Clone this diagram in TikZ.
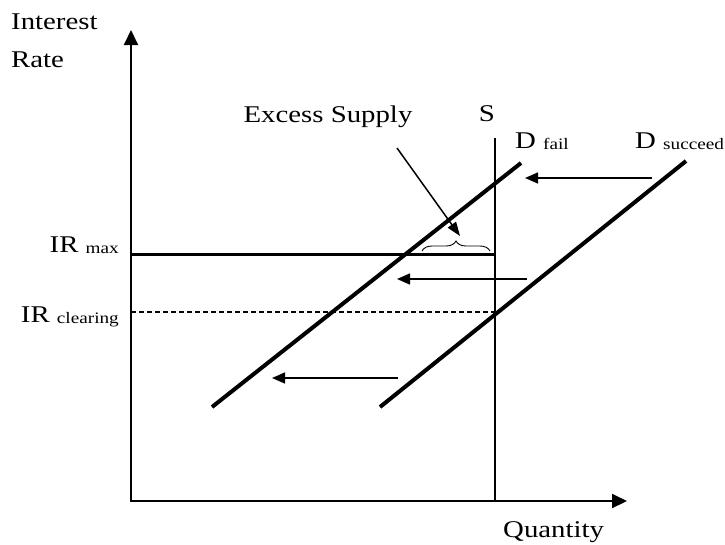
\documentclass[tikz,border=0pt]{standalone}
\usepackage{fontspec}
\setmainfont{Liberation Serif}[FakeStretch=1.2]
\usetikzlibrary{arrows.meta,decorations.pathreplacing}
\newcommand\subtxt[1]{\raisebox{-1.5pt}{\fontsize{16}{18}\selectfont #1}}
\begin{document}
\begin{tikzpicture}[x=1pt,y=-1pt,
  lbl/.style={font=\fontsize{24}{27}\selectfont, inner sep=0pt},
  axis/.style={line width=2pt, {Triangle[length=15pt,width=14pt]}-{Triangle[length=15pt,width=14pt]}},
  curve/.style={line width=4pt},
  shift arrow/.style={line width=1.5pt, -{Triangle[length=13pt,width=11pt]}},
  thin line/.style={line width=1.2pt}]
\useasboundingbox (0,0) rectangle (725,544);
% axes
\coordinate (Ytop) at (131,30);
\coordinate (Xend) at (627,501);
\draw[axis] (Ytop) |- (Xend);
% supply
\coordinate (Stop) at (495,138);
\coordinate (Sbot) at (495,501);
\draw[thin line] (Stop) -- (Sbot);
% rates
\coordinate (IRmaxL) at (131,254);
\coordinate (IRmaxR) at (495,254);
\draw[line width=3pt] (IRmaxL) -- (IRmaxR);
\coordinate (IRclL) at (131,312);
\coordinate (IRclR) at (495,312);
\draw[thin line, dash pattern=on 5pt off 3pt] (IRclL) -- (IRclR);
% demand curves
\coordinate (DfA) at (212,407);
\coordinate (DfB) at (521,163);
\draw[curve] (DfA) -- (DfB);
\coordinate (DsA) at (380,407);
\coordinate (DsB) at (686,161);
\draw[curve] (DsA) -- (DsB);
% shift arrows
\coordinate (A1s) at (652,178); \coordinate (A1e) at (525,178);
\draw[shift arrow] (A1s) -- (A1e);
\coordinate (A2s) at (527,279); \coordinate (A2e) at (397,279);
\draw[shift arrow] (A2s) -- (A2e);
\coordinate (A3s) at (398,378); \coordinate (A3e) at (272,378);
\draw[shift arrow] (A3s) -- (A3e);
% brace
\coordinate (BrL) at (422,251);
\coordinate (BrR) at (490,251);
\draw[line width=0.9pt, decorate, decoration={brace, amplitude=10pt}] (BrL) -- (BrR);
% labels
\node[lbl, anchor=base west] (yl1) at (11,29) {Interest};
\node[lbl, anchor=base west] (yl2) at (11,67) {Rate};
\node[lbl, anchor=base east] (irmax) at (119,252) {IR \subtxt{max}};
\node[lbl, anchor=base east] (ircl) at (119,322) {IR \subtxt{clearing}};
\node[lbl, anchor=base] (slab) at (487,121) {S};
\node[lbl, anchor=base west] (dfail) at (515,148) {D \subtxt{fail}};
\node[lbl, anchor=base west] (dsucc) at (635,148) {D \subtxt{succeed}};
\node[lbl, anchor=base] (excess) at (328,122) {Excess Supply};
\node[lbl, anchor=base west] (qty) at (503,537) {Quantity};
\coordinate (ExStart) at (397,148);
\coordinate (ExTip) at (460,236);
\draw[line width=1.5pt, -{Triangle[length=14pt,width=10pt]}] (ExStart) -- (ExTip);
\end{tikzpicture}
\end{document}
